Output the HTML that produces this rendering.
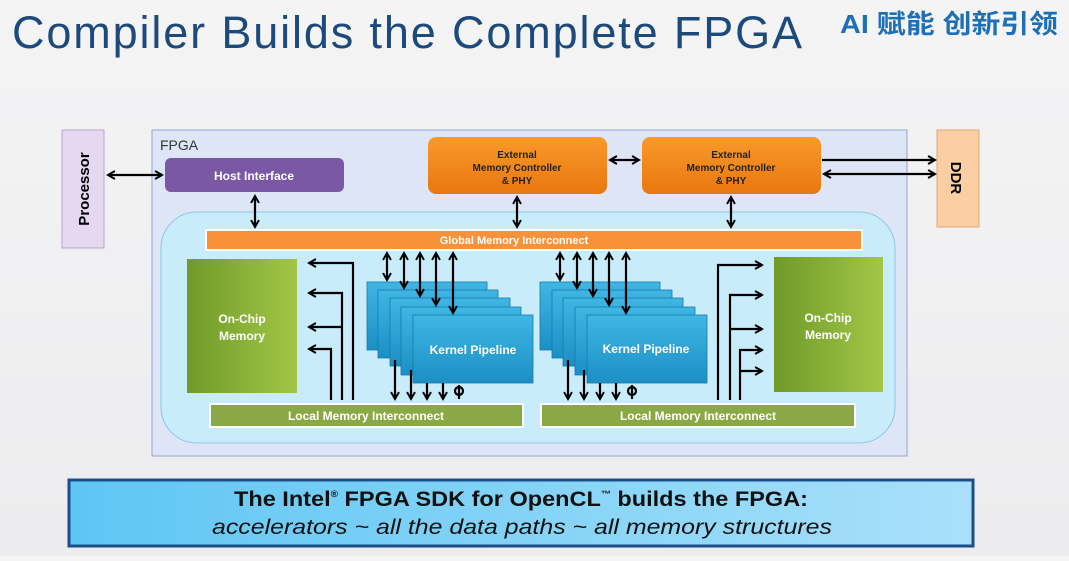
<!DOCTYPE html>
<html><head><meta charset="utf-8"><style>
html,body{margin:0;padding:0;}
body{width:1069px;height:556px;overflow:hidden;background:linear-gradient(180deg,#f4f4f5,#ececee);font-family:"Liberation Sans",sans-serif;}
</style></head><body>
<svg width="1069" height="556" viewBox="0 0 1069 556" xmlns="http://www.w3.org/2000/svg" font-family="Liberation Sans, sans-serif">
<defs>
<marker id="a" viewBox="0 0 10 10" refX="8" refY="5" markerWidth="4.5" markerHeight="4.5" orient="auto-start-reverse"><path d="M1,1 L8,5 L1,9" fill="none" stroke="#000" stroke-width="2"/></marker>
<linearGradient id="kp" x1="0" y1="0" x2="0" y2="1"><stop offset="0" stop-color="#3fb6e4"/><stop offset="1" stop-color="#1c8fc4"/></linearGradient>
<linearGradient id="gr" x1="0" y1="0" x2="1" y2="0"><stop offset="0" stop-color="#6f9a2a"/><stop offset="1" stop-color="#a2c646"/></linearGradient>
<linearGradient id="bt" x1="0" y1="0" x2="1" y2="0"><stop offset="0" stop-color="#5ec6f4"/><stop offset="1" stop-color="#a9e0fa"/></linearGradient>
<linearGradient id="or" x1="0" y1="0" x2="0" y2="1"><stop offset="0" stop-color="#f99a2a"/><stop offset="1" stop-color="#e9770f"/></linearGradient>
</defs>
<text x="12" y="48" font-size="45" fill="#1c4a7c" textLength="790" lengthAdjust="spacing">Compiler Builds the Complete FPGA</text>
<text x="840" y="33" font-size="26" font-weight="bold" fill="#1f6fb5" font-family="Liberation Sans, Noto Sans CJK SC, sans-serif" textLength="218" lengthAdjust="spacingAndGlyphs">AI 赋能 创新引领</text>

<rect x="62" y="130" width="42" height="118" fill="#e6d8f0" stroke="#b9a4cc"/>
<text transform="translate(89,189) rotate(-90)" text-anchor="middle" font-size="15" font-weight="bold">Processor</text>
<rect x="937" y="130" width="42" height="97" fill="#fbcfa3" stroke="#e8a670"/>
<text transform="translate(951,178) rotate(90)" text-anchor="middle" font-size="15" font-weight="bold">DDR</text>

<rect x="152" y="130" width="755" height="326" fill="#dde5f7" stroke="#93a7cf"/>
<text x="160" y="150" font-size="14" fill="#333">FPGA</text>
<rect x="161" y="212" width="734" height="231" rx="36" fill="#c9ecfa" stroke="#8cc6e6"/>

<rect x="165" y="158" width="179" height="34" rx="6" fill="#7a58a4"/>
<text x="254" y="180" text-anchor="middle" font-size="12" font-weight="bold" fill="#fff">Host Interface</text>
<rect x="428" y="137" width="179" height="57" rx="8" fill="url(#or)"/>
<text text-anchor="middle" font-size="10" font-weight="bold" fill="#222"><tspan x="517" y="158">External</tspan><tspan x="517" y="171">Memory Controller</tspan><tspan x="517" y="184">&amp; PHY</tspan></text>
<rect x="642" y="137" width="179" height="57" rx="8" fill="url(#or)"/>
<text text-anchor="middle" font-size="10" font-weight="bold" fill="#222"><tspan x="731" y="158">External</tspan><tspan x="731" y="171">Memory Controller</tspan><tspan x="731" y="184">&amp; PHY</tspan></text>

<rect x="206" y="230" width="656" height="20" fill="#f7923a" stroke="#fff" stroke-width="2"/>
<text x="514" y="244" text-anchor="middle" font-size="11" font-weight="bold" fill="#fff">Global Memory Interconnect</text>

<rect x="187" y="259" width="110" height="134" fill="url(#gr)"/>
<text text-anchor="middle" font-size="12" font-weight="bold" fill="#fff"><tspan x="242" y="323">On-Chip</tspan><tspan x="242" y="340">Memory</tspan></text>
<rect x="774" y="257" width="109" height="135" fill="url(#gr)"/>
<text text-anchor="middle" font-size="12" font-weight="bold" fill="#fff"><tspan x="828" y="322">On-Chip</tspan><tspan x="828" y="339">Memory</tspan></text>

<rect x="210" y="404" width="313" height="23" fill="#8ba846" stroke="#fff" stroke-width="2"/>
<text x="366" y="420" text-anchor="middle" font-size="12" font-weight="bold" fill="#fff">Local Memory Interconnect</text>
<rect x="541" y="404" width="314" height="23" fill="#8ba846" stroke="#fff" stroke-width="2"/>
<text x="698" y="420" text-anchor="middle" font-size="12" font-weight="bold" fill="#fff">Local Memory Interconnect</text>

<g stroke="#1a7aa8" stroke-width="0.8" fill="url(#kp)">
<rect x="367" y="282" width="120" height="68"/><rect x="378" y="290" width="120" height="68"/><rect x="390" y="298" width="120" height="68"/><rect x="401" y="307" width="120" height="68"/><rect x="413" y="315" width="120" height="68"/>
<rect x="540" y="282" width="120" height="68"/><rect x="552" y="290" width="120" height="68"/><rect x="563" y="298" width="120" height="68"/><rect x="575" y="307" width="120" height="68"/><rect x="587" y="315" width="120" height="68"/>
</g>
<text x="473" y="354" text-anchor="middle" font-size="12" font-weight="bold" fill="#fff">Kernel Pipeline</text>
<text x="646" y="353" text-anchor="middle" font-size="12" font-weight="bold" fill="#fff">Kernel Pipeline</text>

<g stroke="#000" stroke-width="2.2" fill="none">
<line x1="108" y1="175" x2="162" y2="175" marker-start="url(#a)" marker-end="url(#a)"/>
<line x1="255" y1="196" x2="255" y2="227" marker-start="url(#a)" marker-end="url(#a)"/>
<line x1="517" y1="197" x2="517" y2="227" marker-start="url(#a)" marker-end="url(#a)"/>
<line x1="731" y1="197" x2="731" y2="227" marker-start="url(#a)" marker-end="url(#a)"/>
<line x1="610" y1="160" x2="639" y2="160" marker-start="url(#a)" marker-end="url(#a)"/>
<line x1="822" y1="160" x2="935" y2="160" marker-end="url(#a)"/>
<line x1="824" y1="174" x2="935" y2="174" marker-start="url(#a)" marker-end="url(#a)"/>
<line x1="387" y1="253" x2="387" y2="280" marker-start="url(#a)" marker-end="url(#a)"/>
<line x1="404" y1="253" x2="404" y2="288" marker-start="url(#a)" marker-end="url(#a)"/>
<line x1="420" y1="253" x2="420" y2="296" marker-start="url(#a)" marker-end="url(#a)"/>
<line x1="436" y1="253" x2="436" y2="305" marker-start="url(#a)" marker-end="url(#a)"/>
<line x1="453" y1="253" x2="453" y2="313" marker-start="url(#a)" marker-end="url(#a)"/>
<line x1="560" y1="253" x2="560" y2="280" marker-start="url(#a)" marker-end="url(#a)"/>
<line x1="577" y1="253" x2="577" y2="288" marker-start="url(#a)" marker-end="url(#a)"/>
<line x1="593" y1="253" x2="593" y2="296" marker-start="url(#a)" marker-end="url(#a)"/>
<line x1="609" y1="253" x2="609" y2="305" marker-start="url(#a)" marker-end="url(#a)"/>
<line x1="626" y1="253" x2="626" y2="313" marker-start="url(#a)" marker-end="url(#a)"/>
<line x1="395" y1="360" x2="395" y2="399" marker-end="url(#a)"/>
<line x1="411" y1="370" x2="411" y2="399" marker-end="url(#a)"/>
<line x1="427" y1="383" x2="427" y2="399" marker-end="url(#a)"/>
<line x1="443" y1="383" x2="443" y2="399" marker-end="url(#a)"/>
<line x1="568" y1="360" x2="568" y2="399" marker-end="url(#a)"/>
<line x1="584" y1="370" x2="584" y2="399" marker-end="url(#a)"/>
<line x1="600" y1="383" x2="600" y2="399" marker-end="url(#a)"/>
<line x1="616" y1="383" x2="616" y2="399" marker-end="url(#a)"/>
<circle cx="459" cy="391" r="4"/><line x1="459" y1="385" x2="459" y2="399"/>
<circle cx="632" cy="391" r="4"/><line x1="632" y1="385" x2="632" y2="399"/>
<path d="M353,400 V263 H309" marker-end="url(#a)"/>
<path d="M342,400 V293 H309" marker-end="url(#a)"/>
<path d="M342,327 H309" marker-end="url(#a)"/>
<path d="M331,400 V349 H309" marker-end="url(#a)"/>
<path d="M718,400 V265 H762" marker-end="url(#a)"/>
<path d="M730,400 V295 H762" marker-end="url(#a)"/>
<path d="M730,329 H762" marker-end="url(#a)"/>
<path d="M740,400 V350 H762" marker-end="url(#a)"/>
<path d="M740,371 H762" marker-end="url(#a)"/>
</g>

<rect x="69" y="480" width="904" height="66" fill="url(#bt)" stroke="#1a4f8a" stroke-width="3"/>
<text x="234" y="506" font-size="21" font-weight="bold" fill="#111" textLength="574" lengthAdjust="spacingAndGlyphs">The Intel<tspan font-size="9" dy="-9">®</tspan><tspan dy="9"> FPGA SDK for OpenCL</tspan><tspan font-size="9" dy="-9">™</tspan><tspan dy="9"> builds the FPGA:</tspan></text>
<text x="212" y="534" font-size="21" font-style="italic" fill="#111" textLength="620" lengthAdjust="spacingAndGlyphs">accelerators ~ all the data paths ~ all memory structures</text>
</svg>
</body></html>
